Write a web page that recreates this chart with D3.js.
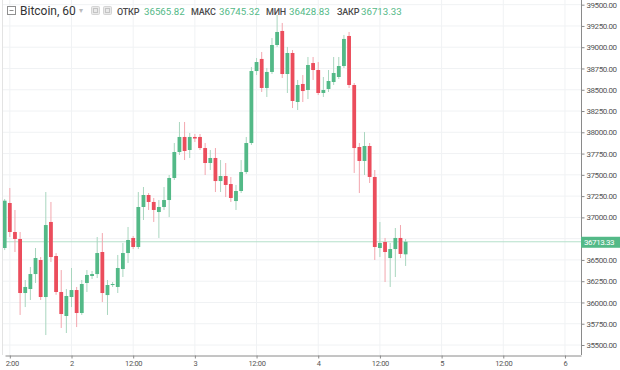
<!DOCTYPE html>
<html>
<head>
<meta charset="utf-8">
<script src="https://cdn.jsdelivr.net/npm/d3@7"></script>
<style>
  html, body { margin: 0; padding: 0; background: #fff; }
  svg { display: block; font-family: Roboto, 'Open Sans', sans-serif; }
</style>
</head>
<body>
<svg id="chart" width="620" height="370"></svg>
<script>
// hourly candles, first one at 11:00 on day 1
const firstCandle = Date.UTC(2021, 1, 1, 11);

const opens = [
    36640, 37169, 36828, 36746, 36111, 36158, 36334, 36499, 36064, 36946,
    36546, 36123, 35841, 36064, 36146, 35876, 36229, 36311, 36334, 36593,
    36087, 36205, 36182, 36393, 36581, 36758, 36652, 37122, 37263, 37181,
    37063, 37122, 37204, 37463, 37768, 37945, 37792, 37945, 37945, 37815,
    37639, 37698, 37427, 37486, 37392, 37192, 37310, 37533, 37874, 38720,
    38862, 38521, 38709, 39026, 39191, 38685, 38932, 38356, 38568, 38497,
    38814, 38732, 38462, 38509, 38591, 38650, 38779, 39132, 38556, 37827,
    37663, 37839, 37475, 36640, 36711, 36522, 36628, 36758, 36565.82
];
const highs = [
    37216, 37345, 37087, 36828, 36264, 36417, 36640, 36534, 37298, 37181,
    36580, 36381, 36158, 36405, 36182, 36264, 36381, 36370, 36769, 36816,
    36264, 36240, 36558, 36699, 36887, 36781, 37298, 37357, 37286, 37228,
    37204, 37357, 37498, 37874, 38121, 38121, 37992, 37980, 37980, 37874,
    37792, 37815, 37674, 37639, 37475, 37381, 37674, 37945, 38767, 38873,
    38944, 38756, 39108, 39379, 39285, 39003, 38967, 38615, 38673, 38885,
    38885, 38826, 38650, 38732, 38885, 38885, 39144, 39179, 38579, 37874,
    38003, 37874, 37557, 36946, 36758, 36699, 36875, 36910, 36745.32
];
const lows = [
    36616, 36769, 36593, 35853, 35946, 36029, 36229, 36029, 35617, 36475,
    36090, 35700, 35641, 35946, 35711, 35853, 36123, 36276, 36287, 36005,
    35853, 36182, 36111, 36299, 36464, 36628, 36628, 36969, 37087, 36946,
    36758, 37087, 37004, 37439, 37733, 37674, 37698, 37886, 37792, 37498,
    37557, 37298, 37298, 37239, 37181, 37087, 37286, 37510, 37851, 38673,
    38474, 38415, 38685, 39003, 38638, 38462, 38285, 38262, 38356, 38391,
    38615, 38438, 38415, 38474, 38556, 38626, 38756, 38521, 37522, 37286,
    37498, 37404, 36499, 36534, 36240, 36182, 36299, 36522, 36428.83
];
const closes = [
    37196, 36828, 36746, 36111, 36182, 36334, 36522, 36064, 36910, 36534,
    36123, 35864, 36076, 36146, 35876, 36217, 36323, 36334, 36581, 36111,
    36205, 36217, 36405, 36581, 36734, 36652, 37122, 37263, 37181, 37087,
    37122, 37204, 37463, 37768, 37945, 37780, 37945, 37927, 37815, 37639,
    37698, 37427, 37486, 37381, 37228, 37310, 37533, 37874, 38720, 38826,
    38521, 38709, 39026, 39179, 38685, 38932, 38368, 38556, 38485, 38791,
    38732, 38462, 38497, 38603, 38697, 38779, 39097, 38556, 37815, 37663,
    37839, 37475, 36652, 36699, 36593, 36628, 36758, 36570, 36713.33
];

const priceTicks = [35500, 35750, 36000, 36250, 36500, 36750, 37000, 37250,
    37500, 37750, 38000, 38250, 38500, 38750, 39000, 39250, 39500];
const headerLabels = ['ОТКР', 'МАКС', 'МИН', 'ЗАКР'];
const symbolTitle = 'Bitcoin, 60';

const GREEN = '#53b987', RED = '#eb4d5c';
const GREEN_WICK = '#a9d6bf', RED_WICK = '#f3a6ae';

const candles = opens.map(function(o, i) {
    return {
        t: new Date(firstCandle + i * 3600e3),
        open: o, high: highs[i], low: lows[i], close: closes[i]
    };
});

const plotRight = 581, plotBottom = 355;
const HOUR = 3600e3;
const day2 = Date.UTC(2021, 1, 2);

const svg = d3.select('#chart');

const x = d3.scaleUtc()
    .domain([new Date(day2 - 13.91 * HOUR), new Date(day2 + 99.12 * HOUR)])
    .range([0, plotRight]);

const y = d3.scaleLinear()
    .domain([35500, 39500])
    .range([345, 4.67]);

const timeTicks = x.ticks(d3.utcHour.every(12));
const last = candles[candles.length - 1];
const tagY = y(last.close);

const defs = svg.append('defs');
defs.append('clipPath').attr('id', 'plot-clip')
    .append('rect').attr('x', 3).attr('y', 0)
    .attr('width', plotRight - 3).attr('height', plotBottom);
defs.append('clipPath').attr('id', 'xaxis-clip')
    .append('rect').attr('x', 5.5).attr('y', plotBottom - 2)
    .attr('width', plotRight).attr('height', 20);

// grid
const grid = svg.append('g').attr('clip-path', 'url(#plot-clip)');
grid.selectAll('.vgrid').data(timeTicks).enter().append('line')
    .attr('x1', function(d) { return x(d); })
    .attr('x2', function(d) { return x(d); })
    .attr('y1', 0).attr('y2', plotBottom)
    .attr('stroke', '#f0f2f4').attr('stroke-width', 1);
grid.selectAll('.hgrid').data(priceTicks).enter().append('line')
    .attr('x1', 0).attr('x2', plotRight)
    .attr('y1', function(d) { return y(d); })
    .attr('y2', function(d) { return y(d); })
    .attr('stroke', '#f0f2f4').attr('stroke-width', 1);

// left panel edge
svg.append('line')
    .attr('x1', 2.5).attr('x2', 2.5).attr('y1', 0).attr('y2', plotBottom)
    .attr('stroke', '#e3e3e3');

// last price line
grid.append('line')
    .attr('x1', 0).attr('x2', plotRight)
    .attr('y1', tagY).attr('y2', tagY)
    .attr('stroke', '#b4e0ca').attr('stroke-width', 1);

const plot = svg.append('g').attr('clip-path', 'url(#plot-clip)');
const bodyW = 3.8;

plot.selectAll('.wick').data(candles).enter().append('line')
    .attr('class', 'wick')
    .attr('x1', function(d) { return x(d.t); })
    .attr('x2', function(d) { return x(d.t); })
    .attr('y1', function(d) { return y(d.high); })
    .attr('y2', function(d) { return y(d.low); })
    .attr('stroke', function(d) { return d.close >= d.open ? GREEN_WICK : RED_WICK; })
    .attr('stroke-width', 1);

plot.selectAll('.body').data(candles).enter().append('rect')
    .attr('class', 'body')
    .attr('x', function(d) { return x(d.t) - bodyW / 2; })
    .attr('y', function(d) { return y(Math.max(d.open, d.close)); })
    .attr('width', bodyW)
    .attr('height', function(d) { return Math.max(1, Math.abs(y(d.open) - y(d.close))); })
    .attr('fill', function(d) { return d.close >= d.open ? GREEN : RED; });

// price axis (the tag hides the label it would cover)
svg.append('line')
    .attr('x1', plotRight + 0.5).attr('x2', plotRight + 0.5)
    .attr('y1', 0).attr('y2', plotBottom)
    .attr('stroke', '#8a8a8a');

const visiblePriceTicks = priceTicks.filter(function(p) { return Math.abs(y(p) - tagY) > 9; });
const yAxis = svg.append('g')
    .attr('transform', 'translate(' + (plotRight + 0.5) + ',0)')
    .call(d3.axisRight(y).tickValues(visiblePriceTicks).tickFormat(d3.format('.2f'))
        .tickSize(3).tickPadding(2));
yAxis.select('.domain').remove();
yAxis.selectAll('line').attr('stroke', '#8a8a8a');
yAxis.selectAll('text')
    .attr('fill', '#555')
    .style('font-size', '8px')
    .style('letter-spacing', '-0.45px')
    .style('font-family', 'Roboto, sans-serif');

// time axis, clipped at the panel's left edge
const xAxis = svg.append('g').attr('clip-path', 'url(#xaxis-clip)')
    .append('g')
    .attr('transform', 'translate(0,' + (plotBottom + 0.5) + ')')
    .call(d3.axisBottom(x).tickValues(timeTicks)
        .tickFormat(function(d) { return d.getUTCHours() === 0 ? String(d.getUTCDate()) : '12:00'; })
        .tickSize(3).tickSizeOuter(0).tickPadding(2));
xAxis.select('.domain').attr('stroke', '#8a8a8a');
xAxis.selectAll('line').attr('stroke', '#8a8a8a');
xAxis.selectAll('text')
    .attr('fill', '#555')
    .style('font-size', '7.5px')
    .style('letter-spacing', '-0.3px')
    .style('font-family', 'Roboto, sans-serif');

// last price tag
svg.append('rect')
    .attr('x', plotRight).attr('y', tagY - 5)
    .attr('width', 620 - plotRight).attr('height', 11)
    .attr('fill', GREEN);
svg.append('text')
    .attr('x', plotRight + 3).attr('y', tagY + 3.3)
    .attr('fill', '#fff')
    .style('font-size', '8px')
    .style('letter-spacing', '-0.45px')
    .text(d3.format('.2f')(last.close));

// header
const header = svg.append('g');
header.append('rect')
    .attr('x', 7.5).attr('y', 6.5).attr('width', 8).attr('height', 8)
    .attr('fill', '#fff').attr('stroke', '#8f8f8f');
header.append('line')
    .attr('x1', 9.5).attr('x2', 13.5).attr('y1', 10.5).attr('y2', 10.5)
    .attr('stroke', '#8f8f8f');
header.append('text')
    .attr('x', 20).attr('y', 15)
    .attr('fill', '#333')
    .style('font-size', '12px')
    .text(symbolTitle);
header.append('text')
    .attr('x', 79).attr('y', 13)
    .attr('fill', '#bbb')
    .style('font-size', '8px')
    .text('▾');
[91, 103].forEach(function(bx) {
    header.append('rect')
        .attr('x', bx + 0.5).attr('y', 6.5).attr('width', 8).attr('height', 8)
        .attr('rx', 1)
        .attr('fill', '#e9e9e9').attr('stroke', '#d4d4d4');
    header.append('rect')
        .attr('x', bx + 2.5).attr('y', 8.5).attr('width', 4).attr('height', 4)
        .attr('fill', 'none').attr('stroke', '#c4c4c4');
});

const headerValues = [last.open, last.high, last.low, last.close].map(d3.format('.2f'));
const labelX = [117, 191, 266, 337];
const valueX = [144, 219, 289, 361];
headerLabels.forEach(function(label, i) {
    header.append('text')
        .attr('x', labelX[i]).attr('y', 15)
        .attr('fill', '#4a4a4a')
        .style('font-size', '9px')
        .style('font-weight', '500')
        .style('letter-spacing', '-0.2px')
        .text(label);
    header.append('text')
        .attr('x', valueX[i]).attr('y', 15)
        .attr('fill', GREEN)
        .style('font-size', '9.7px')
        .text(headerValues[i]);
});
</script>
</body>
</html>
